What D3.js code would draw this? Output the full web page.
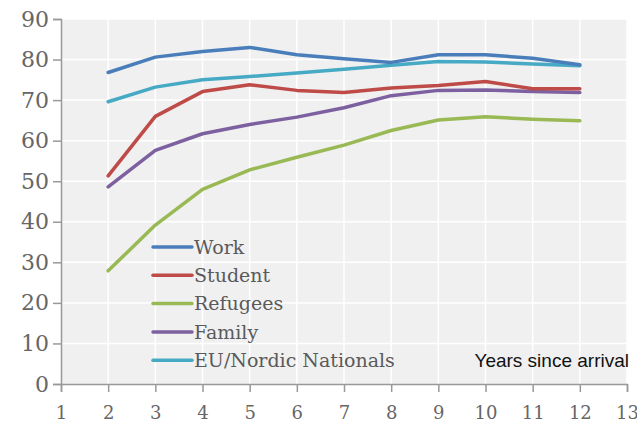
<!DOCTYPE html>
<html>
<head>
<meta charset="utf-8">
<script src="https://cdn.jsdelivr.net/npm/d3@7"></script>
<style>
  body { margin: 0; background: #fff; }
  svg { display: block; }
</style>
</head>
<body>
<svg id="chart" width="637" height="423"></svg>
<script>
  // years since arrival (data points), axis ticks
  var years = [2, 3, 4, 5, 6, 7, 8, 9, 10, 11, 12];
  var xTicks = [1, 2, 3, 4, 5, 6, 7, 8, 9, 10, 11, 12, 13];
  var yTicks = [0, 10, 20, 30, 40, 50, 60, 70, 80, 90];

  var seriesNames = ['Work', 'Student', 'Refugees', 'Family', 'EU/Nordic Nationals'];
  var work     = [76.8, 80.6, 82.0, 83.0, 81.2, 80.2, 79.3, 81.2, 81.2, 80.3, 78.7];
  var student  = [51.3, 66.0, 72.1, 73.8, 72.4, 71.9, 73.0, 73.6, 74.6, 72.8, 72.8];
  var refugees = [27.9, 39.2, 48.0, 52.8, 55.9, 58.9, 62.5, 65.1, 65.9, 65.3, 64.9];
  var family   = [48.6, 57.6, 61.7, 64.0, 65.8, 68.1, 71.1, 72.4, 72.5, 72.1, 71.9];
  var euNordic = [69.6, 73.2, 75.0, 75.8, 76.7, 77.6, 78.6, 79.5, 79.4, 78.9, 78.5];

  var colors = ['#4a7ebb', '#be4b48', '#98b954', '#7d60a0', '#46aac5'];
  var allSeries = [work, student, refugees, family, euNordic];

  (function () {
    var svg = d3.select('#chart');
    var plotLeft = 61, plotRight = 627, plotTop = 19, plotBottom = 384;

    var x = d3.scaleLinear().domain([1, 13]).range([plotLeft, plotRight]);
    var y = d3.scaleLinear().domain([0, 90]).range([plotBottom, plotTop]);

    // plot background
    svg.append('rect')
      .attr('x', plotLeft).attr('y', plotTop)
      .attr('width', plotRight - plotLeft).attr('height', plotBottom - plotTop)
      .attr('fill', '#f0f0f0');

    // grid
    svg.append('g').selectAll('line')
      .data(yTicks.slice(1))
      .enter().append('line')
      .attr('x1', plotLeft).attr('x2', plotRight)
      .attr('y1', function (d) { return y(d); })
      .attr('y2', function (d) { return y(d); })
      .attr('stroke', '#fff').attr('stroke-width', 1.5);

    svg.append('g').selectAll('line')
      .data(xTicks.slice(1))
      .enter().append('line')
      .attr('y1', plotTop).attr('y2', plotBottom)
      .attr('x1', function (d) { return x(d); })
      .attr('x2', function (d) { return x(d); })
      .attr('stroke', '#fff').attr('stroke-width', 1.5);

    // axes
    var yAxis = svg.append('g')
      .attr('transform', 'translate(' + plotLeft + ',0)')
      .call(d3.axisLeft(y).tickValues(yTicks).tickSize(8).tickPadding(4));
    var xAxis = svg.append('g')
      .attr('transform', 'translate(0,' + plotBottom + ')')
      .call(d3.axisBottom(x).tickValues(xTicks).tickSize(8).tickPadding(14));

    [yAxis, xAxis].forEach(function (a) {
      a.select('.domain').attr('stroke', '#999').attr('stroke-width', 1.5);
      a.selectAll('.tick line').attr('stroke', '#999').attr('stroke-width', 1.5);
      a.selectAll('.tick text')
        .attr('fill', '#666')
        .style('font-family', '"DejaVu Serif", Georgia, serif');
    });
    yAxis.selectAll('.tick text').style('font-size', '22px');
    xAxis.selectAll('.tick text').style('font-size', '18px');

    // lines
    var line = d3.line()
      .x(function (d, i) { return x(years[i]); })
      .y(function (d) { return y(d); });

    // draw order so Work/EU lie on top as in the reference
    var drawOrder = [2, 3, 1, 4, 0];
    drawOrder.forEach(function (k) {
      svg.append('path')
        .datum(allSeries[k])
        .attr('d', line)
        .attr('fill', 'none')
        .attr('stroke', colors[k])
        .attr('stroke-width', 3.5)
        .attr('stroke-linejoin', 'round')
        .attr('stroke-linecap', 'round');
    });

    // legend
    var legend = svg.append('g').attr('transform', 'translate(153,247)');
    var rows = legend.selectAll('g')
      .data(seriesNames)
      .enter().append('g')
      .attr('transform', function (d, i) { return 'translate(0,' + (i * 28.3) + ')'; });
    rows.append('line')
      .attr('x1', 0).attr('x2', 39)
      .attr('stroke', function (d, i) { return colors[i]; })
      .attr('stroke-width', 3.5)
      .attr('stroke-linecap', 'round');
    rows.append('text')
      .attr('x', 41).attr('dy', '0.36em')
      .attr('fill', '#5a5a5a')
      .style('font-family', '"DejaVu Serif", Georgia, serif')
      .style('font-size', '19px')
      .text(function (d) { return d; });

    svg.append('text')
      .attr('x', 629).attr('y', 367)
      .attr('text-anchor', 'end')
      .attr('fill', '#111')
      .style('font-family', '"Liberation Sans", Arial, sans-serif')
      .style('font-size', '19px')
      .text('Years since arrival');
  })();
</script>
</body>
</html>
